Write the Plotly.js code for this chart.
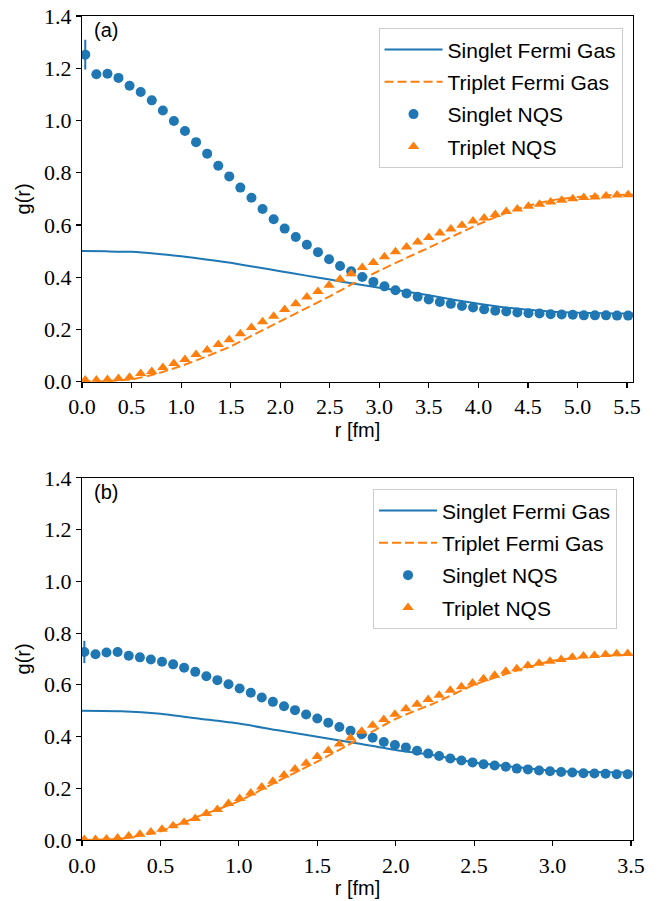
<!DOCTYPE html>
<html>
<head>
<meta charset="utf-8">
<script src="https://cdn.plot.ly/plotly-3.0.1.min.js"></script>
<style>html,body{margin:0;padding:0;background:#fff;}#plot{width:657px;height:901px;}</style>
</head>
<body>
<div id="plot"></div>
<script>
// ---------- Panel (a) ----------
const rFG_a = [0,0.25,0.5,0.75,1.0,1.25,1.5,1.75,2.0,2.25,2.5,2.75,3.0,3.25,3.5,3.75,4.0,4.25,4.5,4.75,5.0,5.25,5.5,5.56];
const singletFG_a = [0.500,0.499,0.497,0.490,0.480,0.468,0.455,0.439,0.423,0.407,0.391,0.375,0.360,0.346,0.331,0.314,0.298,0.285,0.275,0.268,0.264,0.262,0.261,0.261];
const tripletFG_a = [0.000,0.002,0.009,0.030,0.060,0.096,0.135,0.183,0.231,0.279,0.327,0.378,0.425,0.470,0.513,0.558,0.602,0.642,0.673,0.695,0.707,0.713,0.716,0.716];

const rNQS_a = [0.033,0.145,0.257,0.368,0.480,0.592,0.704,0.816,0.927,1.039,1.151,1.263,1.375,1.486,1.598,1.710,1.822,1.934,2.045,2.157,2.269,2.381,2.493,2.604,2.716,2.828,2.940,3.052,3.163,3.275,3.387,3.499,3.611,3.722,3.834,3.946,4.058,4.170,4.281,4.393,4.505,4.617,4.729,4.840,4.952,5.064,5.176,5.288,5.399,5.511];
const singletNQS_a = [1.252,1.177,1.179,1.163,1.133,1.109,1.077,1.038,0.998,0.960,0.917,0.873,0.827,0.786,0.743,0.704,0.661,0.622,0.586,0.554,0.524,0.496,0.469,0.443,0.423,0.401,0.382,0.365,0.350,0.338,0.325,0.315,0.305,0.298,0.290,0.284,0.277,0.272,0.269,0.265,0.262,0.261,0.258,0.257,0.256,0.254,0.254,0.254,0.253,0.253];
const singletErr_a = [0.057];
const tripletNQS_a = [0.006,0.006,0.008,0.012,0.017,0.031,0.039,0.054,0.070,0.085,0.104,0.121,0.142,0.161,0.184,0.207,0.229,0.251,0.276,0.298,0.324,0.345,0.369,0.392,0.413,0.437,0.456,0.478,0.497,0.516,0.535,0.552,0.569,0.585,0.599,0.615,0.627,0.640,0.652,0.661,0.672,0.679,0.688,0.695,0.700,0.705,0.707,0.711,0.715,0.716];

// ---------- Panel (b) ----------
const rFG_b = [0,0.25,0.5,0.75,1.0,1.25,1.5,1.75,2.0,2.25,2.5,2.75,3.0,3.25,3.5,3.51];
const singletFG_b = [0.500,0.498,0.488,0.469,0.450,0.424,0.399,0.374,0.348,0.327,0.300,0.283,0.268,0.263,0.261,0.261];
const tripletFG_b = [0.000,0.005,0.034,0.093,0.150,0.228,0.303,0.385,0.468,0.530,0.600,0.651,0.693,0.710,0.716,0.716];

const rNQS_b = [0.015,0.086,0.156,0.227,0.298,0.369,0.439,0.510,0.581,0.651,0.722,0.793,0.863,0.934,1.005,1.076,1.146,1.217,1.288,1.358,1.429,1.500,1.570,1.641,1.712,1.783,1.853,1.924,1.995,2.065,2.136,2.207,2.277,2.348,2.419,2.490,2.560,2.631,2.702,2.772,2.843,2.914,2.984,3.055,3.126,3.197,3.267,3.338,3.409,3.479];
const singletNQS_b = [0.727,0.718,0.725,0.727,0.712,0.706,0.698,0.689,0.679,0.666,0.650,0.633,0.618,0.602,0.586,0.569,0.551,0.534,0.517,0.502,0.485,0.470,0.453,0.437,0.422,0.409,0.395,0.379,0.367,0.358,0.345,0.334,0.325,0.315,0.307,0.300,0.293,0.288,0.283,0.276,0.273,0.269,0.266,0.263,0.261,0.258,0.257,0.256,0.254,0.254];
const singletErr_b = [0.043];
const tripletNQS_b = [0.002,0.002,0.004,0.008,0.015,0.022,0.031,0.042,0.055,0.069,0.083,0.102,0.118,0.141,0.160,0.182,0.205,0.227,0.251,0.274,0.297,0.323,0.346,0.371,0.394,0.420,0.444,0.466,0.486,0.507,0.525,0.543,0.560,0.579,0.592,0.607,0.623,0.637,0.652,0.662,0.675,0.683,0.691,0.698,0.706,0.711,0.713,0.717,0.720,0.721];

const names = ['Singlet Fermi Gas','Triplet Fermi Gas','Singlet NQS','Triplet NQS'];
const yTicks = [0,0.2,0.4,0.6,0.8,1.0,1.2,1.4];
const yTickText = ['0.0','0.2','0.4','0.6','0.8','1.0','1.2','1.4'];
const xTicks_a = [0,0.5,1.0,1.5,2.0,2.5,3.0,3.5,4.0,4.5,5.0,5.5];
const xTickText_a = ['0.0','0.5','1.0','1.5','2.0','2.5','3.0','3.5','4.0','4.5','5.0','5.5'];
const xTicks_b = [0,0.5,1.0,1.5,2.0,2.5,3.0,3.5];
const xTickText_b = ['0.0','0.5','1.0','1.5','2.0','2.5','3.0','3.5'];

const BLUE = '#1f77b4', ORANGE = '#ff7f0e';
const SANS = 'Liberation Sans';
const SERIF = 'Liberation Serif';

function panel(rFG, sFG, tFG, rN, sN, sErr, tN, xa, ya, leg) {
  return [
    {x: rFG, y: sFG, type: 'scatter', mode: 'lines', name: names[0], xaxis: xa, yaxis: ya, legend: leg, legendgroup: leg+'1',
     line: {color: BLUE, width: 2, shape: 'spline', smoothing: 0.6}},
    {x: rFG, y: tFG, type: 'scatter', mode: 'lines', name: names[1], xaxis: xa, yaxis: ya, legend: leg, legendgroup: leg+'2',
     line: {color: ORANGE, width: 2, dash: '9px,4px', shape: 'spline', smoothing: 0.6}},
    {x: rN, y: sN, type: 'scatter', mode: 'markers', name: names[2], xaxis: xa, yaxis: ya, legend: leg, legendgroup: leg+'3',
     marker: {color: BLUE, size: 10, symbol: 'circle'},
     error_y: {type: 'data', array: sErr, visible: true, color: BLUE, thickness: 2, width: 0}},
    {x: rN, y: tN, type: 'scatter', mode: 'markers', name: names[3], xaxis: xa, yaxis: ya, legend: leg, legendgroup: leg+'4',
     marker: {color: ORANGE, size: 10, symbol: 'triangle-up'}}
  ];
}

const data = [].concat(
  panel(rFG_a, singletFG_a, tripletFG_a, rNQS_a, singletNQS_a, singletErr_a, tripletNQS_a, 'x', 'y', 'legend'),
  panel(rFG_b, singletFG_b, tripletFG_b, rNQS_b, singletNQS_b, singletErr_b, tripletNQS_b, 'x2', 'y2', 'legend2')
);

function xax(range, tv, tt, anchor) {
  return {range: range, anchor: anchor, tickvals: tv, ticktext: tt, ticks: 'outside', ticklen: 5, tickwidth: 1.1, tickcolor: '#000',
    showline: true, mirror: true, linecolor: '#000', linewidth: 1.1, showgrid: false, zeroline: false,
    tickfont: {family: SERIF, size: 22, color: '#000'},
    title: {text: 'r [fm]', font: {family: SANS, size: 20, color: '#000'}, standoff: 4}};
}
function yax(domain, anchor) {
  return {range: [0, 1.4], domain: domain, anchor: anchor, tickvals: yTicks, ticktext: yTickText, ticks: 'outside', ticklen: 5, tickwidth: 1.1, tickcolor: '#000',
    showline: true, mirror: true, linecolor: '#000', linewidth: 1.1, showgrid: false, zeroline: false,
    tickfont: {family: SERIF, size: 22, color: '#000'},
    title: {text: 'g(r)', font: {family: SANS, size: 20, color: '#000'}, standoff: 8}};
}
function legend(x, y) {
  return {x: x, y: y, xanchor: 'right', yanchor: 'top', xref: 'paper', yref: 'paper',
    bgcolor: 'rgba(255,255,255,0.8)', bordercolor: '#cccccc', borderwidth: 1,
    font: {family: SANS, size: 21, color: '#000'}, traceorder: 'grouped', tracegroupgap: 2, itemwidth: 58};
}

const layout = {
  width: 657, height: 901,
  margin: {l: 82, r: 24, t: 16, b: 61},
  font: {family: SERIF, color: '#000'},
  paper_bgcolor: '#fff', plot_bgcolor: '#fff',
  showlegend: true,
  xaxis: xax([0, 5.56], xTicks_a, xTickText_a, 'y'),
  yaxis: yax([0.5562, 1], 'x'),
  xaxis2: xax([0, 3.513], xTicks_b, xTickText_b, 'y2'),
  yaxis2: yax([0, 0.4395], 'x2'),
  legend: legend(0.981, 0.985),
  legend2: legend(0.971, 0.4255),
  annotations: [
    {text: '(a)', xref: 'paper', yref: 'paper', x: 0.018, y: 0.9827, xanchor: 'left', yanchor: 'middle', showarrow: false,
     font: {family: SANS, size: 20, color: '#000'}},
    {text: '(b)', xref: 'paper', yref: 'paper', x: 0.018, y: 0.4225, xanchor: 'left', yanchor: 'middle', showarrow: false,
     font: {family: SANS, size: 20, color: '#000'}}
  ]
};

Plotly.newPlot('plot', data, layout, {staticPlot: true, displayModeBar: false});
</script>
</body>
</html>
